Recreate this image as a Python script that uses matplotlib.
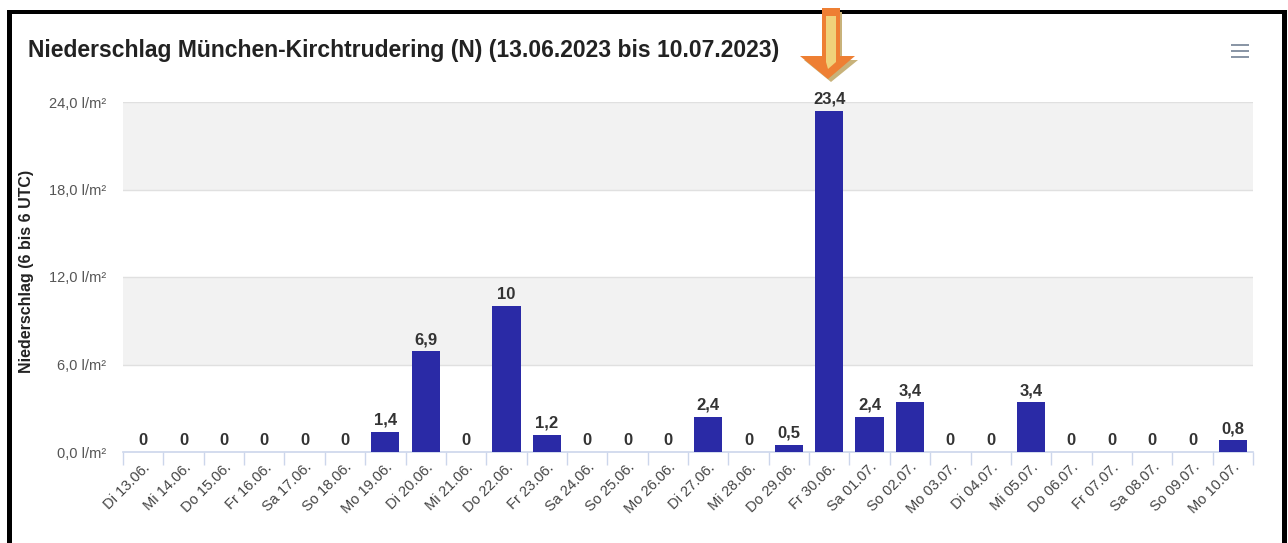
import matplotlib
matplotlib.use("Agg")
import matplotlib.pyplot as plt
from matplotlib.patches import Rectangle, Polygon
import numpy as np

plt.rcParams['font.family'] = ['Liberation Sans', 'DejaVu Sans']

days = ["Di 13.06.", "Mi 14.06.", "Do 15.06.", "Fr 16.06.", "Sa 17.06.", "So 18.06.",
        "Mo 19.06.", "Di 20.06.", "Mi 21.06.", "Do 22.06.", "Fr 23.06.", "Sa 24.06.",
        "So 25.06.", "Mo 26.06.", "Di 27.06.", "Mi 28.06.", "Do 29.06.", "Fr 30.06.",
        "Sa 01.07.", "So 02.07.", "Mo 03.07.", "Di 04.07.", "Mi 05.07.", "Do 06.07.",
        "Fr 07.07.", "Sa 08.07.", "So 09.07.", "Mo 10.07."]
values = [0, 0, 0, 0, 0, 0, 1.4, 6.9, 0, 10, 1.2, 0, 0, 0, 2.4, 0, 0.5, 23.4,
          2.4, 3.4, 0, 0, 3.4, 0, 0, 0, 0, 0.8]
yticks = [0, 6, 12, 18, 24]
title = "Niederschlag München-Kirchtrudering (N) (13.06.2023 bis 10.07.2023)"
ylabel = "Niederschlag (6 bis 6 UTC)"

W, H = 1288, 543
fig = plt.figure(figsize=(W / 100, H / 100), dpi=100)
fig.patch.set_facecolor('white')

ax = fig.add_axes([123 / W, 1 - 452 / H, (1253 - 123) / W, (452 - 102) / H])
n = len(days)
x = np.arange(n)
ax.set_xlim(-0.5, n - 0.5)
ax.set_ylim(0, 24)

# alternating bands
for i in range(len(yticks) - 1):
    if i % 2 == 1:
        ax.axhspan(yticks[i], yticks[i + 1], color='#f2f2f2', zorder=0, lw=0)
for yt in yticks[1:]:
    ax.axhline(yt, color='#e0e0e0', lw=1, zorder=1)

bars = ax.bar(x, values, width=0.7, color='#2a2aa6', zorder=3)

for xi, v in zip(x, values):
    lab = ("%g" % v).replace('.', ',')
    ax.annotate(lab, (xi, v), xytext=(0, 3), textcoords='offset points',
                ha='center', va='bottom', fontsize=12, fontweight='bold',
                color='#333333', zorder=4)

for s in ['top', 'right', 'left']:
    ax.spines[s].set_visible(False)
ax.spines['bottom'].set_color('#ccd6eb')
ax.spines['bottom'].set_linewidth(1.2)

ax.set_yticks(yticks)
ax.set_yticklabels([("%.1f l/m²" % t).replace('.', ',') for t in yticks],
                   fontsize=10.5, color='#555555')
ax.tick_params(axis='y', length=0, pad=12)

ax.set_xticks(x)
ax.set_xticklabels(days, rotation=45, ha='right', va='top', rotation_mode='anchor',
                   fontsize=10.5, color='#444444')
ax.tick_params(axis='x', which='major', length=0, pad=6)
ax.set_xticks(np.arange(-0.5, n, 1), minor=True)
ax.tick_params(axis='x', which='minor', length=9, color='#ccd6eb', width=1)

ax.set_ylabel(ylabel, fontsize=11.5, fontweight='bold', color='#222222')
ax.yaxis.set_label_coords(-0.079, 0.515)

fig.text(28 / W, 1 - 50 / H, title, fontsize=16.5, fontweight='bold', color='#222222',
         ha='left', va='center')

# menu icon
for yy in [45, 51, 57]:
    fig.add_artist(Rectangle(((1231) / W, 1 - (yy + 1) / H), 18 / W, 2 / H,
                             transform=fig.transFigure, color='#8a96a6', lw=0))

# black border
bc = 'black'
fig.add_artist(Rectangle((7 / W, 0), 5 / W, 1 - 10 / H, transform=fig.transFigure, color=bc, lw=0))
fig.add_artist(Rectangle((7 / W, 1 - 14 / H), (1287 - 7) / W, 4 / H, transform=fig.transFigure, color=bc, lw=0))
fig.add_artist(Rectangle((1282 / W, 0), 5 / W, 1 - 10 / H, transform=fig.transFigure, color=bc, lw=0))

# orange arrow
def P(px, py):
    return (px / W, 1 - py / H)

shadow = Polygon([P(824, 12), P(842, 12), P(842, 60), P(858, 60), P(831, 82),
                  P(804, 60), P(824, 60)], closed=True, transform=fig.transFigure,
                 color='#c8b27a', lw=0)
fig.add_artist(shadow)
arrow = Polygon([P(822, 8), P(840, 8), P(840, 56), P(855, 56), P(828, 79),
                 P(800, 56), P(822, 56)], closed=True, transform=fig.transFigure,
                color='#ee7f33', lw=0)
fig.add_artist(arrow)
inner = Polygon([P(826, 16), P(836, 16), P(836, 62), P(828, 69), P(826, 62)],
                closed=True, transform=fig.transFigure, color='#f0d27a', lw=0)
fig.add_artist(inner)

fig.savefig('out.png', dpi=100)
